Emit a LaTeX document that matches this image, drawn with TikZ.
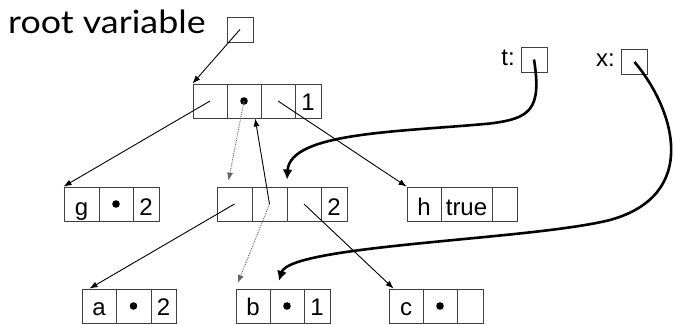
\documentclass[tikz,border=0pt]{standalone}
\usepackage{fontspec}
\setmainfont{Liberation Sans}
\newfontfamily\titlefont[FakeStretch=1.12]{Lato}
\usetikzlibrary{arrows.meta,calc}
\begin{document}
\begin{tikzpicture}[x=1pt,y=-1pt,
  cell/.style={draw=black!75, line width=0.9pt, inner sep=0pt, minimum height=34pt,
    text height=26pt, text depth=4pt, font=\fontsize{24}{28}\selectfont},
  cellb/.style={cell, text height=22pt},
  varbox/.style={draw=black!75, line width=0.9pt, inner sep=0pt, minimum width=26pt, minimum height=25pt},
  lbl/.style={anchor=base east, inner sep=0pt, font=\fontsize{24}{28}\selectfont},
  ptr/.style={line width=0.9pt, -{Latex[length=8pt,width=6pt]}},
  dptr/.style={line width=0.9pt, densely dotted, black!60, -{Latex[length=8pt,width=6pt]}},
  bigptr/.style={line width=2.6pt, -{Latex[length=10pt,width=10pt]}},
  ]
\useasboundingbox (0,0) rectangle (674,324);

% title and variables
\node[anchor=base west, inner sep=0pt, font=\titlefont\fontsize{32}{34}\selectfont] (rv) at (8,33) {root variable};
\node[varbox] (R) at (240,29.5) {};
\node[lbl] (tl) at (515,65) {t:};
\node[varbox] (tb) at (534,59.5) {};
\node[lbl] (xl) at (615,66) {x:};
\node[varbox] (xb) at (634.5,62) {};

% top record
\node[cellb, minimum width=34pt] (T1) at (210,101) {};
\node[cellb, minimum width=34pt] (T2) at (244,101) {};
\node[cellb, minimum width=34pt] (T3) at (278,101) {};
\node[cellb, minimum width=26pt] (T4) at (308,101) {1};

% middle row
\node[cell, minimum width=35pt] (G1) at (81.5,204) {g};
\node[cell, minimum width=34pt] (G2) at (116,204) {};
\node[cell, minimum width=26pt] (G3) at (146,204) {2};

\node[cell, minimum width=35pt] (M1) at (234.5,204) {};
\node[cell, minimum width=35pt] (M2) at (269.5,204) {};
\node[cell, minimum width=34pt] (M3) at (304,204) {};
\node[cell, minimum width=26pt] (M4) at (334,204) {2};

\node[cell, minimum width=34pt] (H1) at (424,204) {h};
\node[cell, minimum width=51pt] (H2) at (466.5,204) {true};
\node[cell, minimum width=25pt] (H3) at (504.5,204) {};

% bottom row
\node[cellb, minimum width=34pt] (A1) at (99,306) {a};
\node[cellb, minimum width=35pt] (A2) at (133.5,306) {};
\node[cellb, minimum width=25pt] (A3) at (163.5,306) {2};

\node[cellb, minimum width=34pt] (B1) at (253,306) {b};
\node[cellb, minimum width=34pt] (B2) at (287,306) {};
\node[cellb, minimum width=26pt] (B3) at (317,306) {1};

\node[cellb, minimum width=34pt] (C1) at (406,306) {c};
\node[cellb, minimum width=34pt] (C2) at (440,306) {};
\node[cellb, minimum width=26pt] (C3) at (470,306) {};

% dots
\foreach \n in {T2,G2,A2,B2,C2} \fill (\n.center) circle (3.8pt);

% thin pointers
\draw[ptr] (R.center) -- (T1.north west);
\draw[ptr] (T1.center) -- (G1.north west);
\draw[ptr] (T3.center) -- (H1.north west);
\draw[ptr] (M1.center) -- ($(A1.north west)+(8,0)$);
\draw[ptr] (M3.center) -- ($(C1.north west)+(5,0)$);
\draw[ptr] (M2.center) -- ($(T2.south west)!0.82!(T2.south east)$);
\draw[dptr, shorten >=6pt] (T2.center) -- ($(M1.north west)!0.3!(M1.north east)$);
\draw[dptr, shorten >=6pt] (M2.center) -- (B1.north west);

% thick pointers
\coordinate (tm) at (490,123.5);
\coordinate (xm) at (610,220);
\draw[bigptr, shorten >=7pt] (tb.center) .. controls (542,110) and (530,118.5) .. (tm)
  .. controls (400,132) and (290,132) .. (M3.north west);
\draw[bigptr, shorten >=8pt] (xb.center) .. controls (675,110) and (700,195) .. (xm)
  .. controls (530,240) and (290,245) .. ($(B2.north west)+(7,0)$);
\end{tikzpicture}
\end{document}
